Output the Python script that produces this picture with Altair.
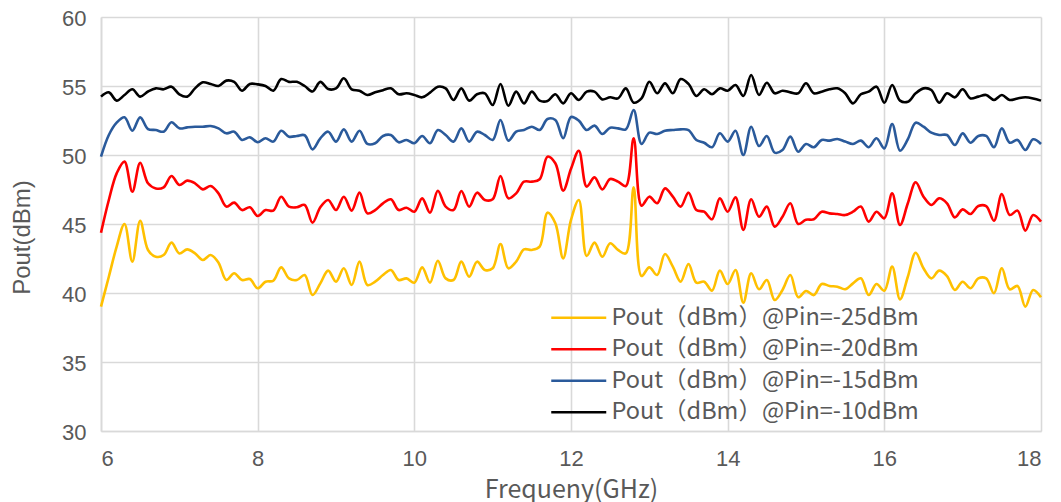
import altair as alt
import pandas as pd

freq = [round(6 + 0.1 * i, 1) for i in range(121)]

p25 = [39.01, 41.18, 43.36, 45.0, 42.27, 45.24, 43.12, 42.63, 42.75, 43.65,
       42.87, 43.16, 42.87, 42.39, 42.75, 42.2, 40.94, 41.43, 40.94, 41.01,
       40.34, 40.82, 40.89, 41.86, 41.06, 40.94, 41.3, 39.85, 40.7, 41.62,
       40.82, 41.79, 40.58, 42.27, 40.58, 40.82, 41.3, 41.67, 40.94, 41.06,
       40.75, 41.86, 40.75, 42.34, 41.06, 40.94, 42.27, 41.18, 42.27, 41.67,
       41.79, 43.55, 41.79, 42.27, 43.16, 43.12, 43.36, 45.82, 45.05, 42.51,
       45.3, 46.74, 42.68, 43.65, 42.63, 43.6, 43.12, 42.87, 47.66, 41.23,
       41.86, 41.3, 42.83, 41.91, 40.82, 42.1, 40.75, 40.82, 40.17, 41.62,
       40.65, 41.67, 39.3, 41.43, 40.27, 40.94, 39.49, 40.22, 41.3, 39.69,
       40.15, 39.85, 40.65, 40.51, 40.46, 40.27, 40.7, 41.06, 39.85, 40.65,
       40.17, 41.91, 39.54, 41.18, 42.92, 41.79, 41.06, 41.62, 41.23, 40.22,
       40.82, 40.34, 41.06, 41.06, 39.98, 41.79, 40.27, 40.51, 39.01, 40.22,
       39.69]

p20 = [44.37, 46.74, 48.67, 49.52, 47.34, 49.44, 47.95, 47.58, 47.66, 48.48,
       47.83, 48.14, 47.95, 47.51, 47.75, 47.22, 46.26, 46.55, 46.01, 46.21,
       45.58, 46.01, 45.97, 46.98, 46.26, 46.21, 46.38, 45.1, 46.21, 46.74,
       46.01, 46.98, 45.97, 47.27, 45.77, 46.01, 46.5, 46.79, 46.01, 46.18,
       45.89, 46.86, 45.82, 47.41, 46.26, 46.01, 47.39, 46.26, 47.27, 46.74,
       46.79, 48.48, 46.86, 47.22, 48.07, 48.07, 48.24, 49.88, 49.4, 47.42,
       49.0, 50.31, 47.71, 48.38, 47.51, 48.26, 48.07, 47.75, 51.21, 46.33,
       46.98, 46.5, 47.58, 46.98, 46.26, 47.27, 46.01, 45.89, 45.34, 46.86,
       45.89, 46.93, 44.57, 46.79, 45.53, 46.26, 44.81, 45.53, 46.5, 45.0,
       45.31, 45.34, 45.89, 45.77, 45.72, 45.65, 45.89, 46.26, 45.17, 45.89,
       45.41, 47.22, 44.93, 46.5, 48.02, 46.98, 46.38, 46.86, 46.5, 45.48,
       46.06, 45.72, 46.3, 46.3, 45.24, 47.17, 45.65, 45.97, 44.52, 45.65,
       45.17]

p15 = [49.88, 51.45, 52.34, 52.73, 51.76, 52.73, 51.88, 51.81, 51.69, 52.37,
       51.93, 52.0, 52.05, 52.05, 52.1, 51.93, 51.57, 51.69, 51.09, 51.28,
       50.92, 51.21, 50.97, 51.76, 51.33, 51.38, 51.43, 50.41, 51.21, 51.69,
       50.97, 51.86, 50.97, 51.76, 50.8, 50.85, 51.38, 51.45, 50.92, 51.09,
       50.85, 51.38, 50.85, 51.81, 51.45, 50.97, 51.93, 50.97, 51.69, 51.45,
       51.09, 52.54, 51.04, 51.69, 51.81, 52.05, 51.81, 52.61, 52.54, 51.21,
       52.75, 52.49, 51.81, 52.13, 51.52, 51.98, 51.93, 51.86, 53.26, 50.8,
       51.62, 51.52, 51.76, 51.81, 51.86, 51.81, 51.09, 50.89, 50.56, 51.57,
       50.97, 51.76, 50.0, 52.05, 50.65, 51.38, 50.17, 50.36, 51.33, 50.24,
       50.8, 50.56, 51.09, 51.04, 51.16, 50.97, 50.8, 51.04, 50.56, 51.21,
       50.48, 52.25, 50.31, 51.14, 52.34, 52.05, 51.62, 51.45, 51.45, 50.72,
       51.57, 50.89, 51.38, 51.38, 50.56, 51.93, 50.89, 51.09, 50.36, 51.14,
       50.8]

p10 = [54.23, 54.54, 53.94, 54.35, 54.76, 54.23, 54.6, 54.83, 54.76, 54.95,
       54.4, 54.23, 54.83, 55.27, 55.15, 55.0, 55.39, 55.3, 54.66, 55.15,
       55.12, 55.0, 54.66, 55.5, 55.3, 55.3, 55.0, 54.6, 55.3, 54.78,
       54.83, 55.56, 54.76, 54.66, 54.35, 54.54, 54.7, 54.83, 54.4, 54.47,
       54.35, 54.18, 54.52, 54.95, 54.83, 53.99, 54.83, 53.94, 54.4, 54.47,
       53.62, 55.15, 53.57, 54.59, 53.74, 54.59, 53.94, 53.91, 54.4, 53.74,
       54.47, 53.99, 54.59, 54.59, 54.03, 54.18, 54.1, 54.83, 53.79, 54.1,
       55.31, 54.47, 55.19, 54.47, 55.5, 55.15, 54.28, 54.76, 54.4, 54.83,
       54.66, 55.07, 54.28, 55.8, 54.35, 55.24, 54.47, 54.66, 54.54, 54.47,
       55.2, 54.47, 54.59, 54.76, 54.83, 54.47, 53.74, 54.4, 54.59, 54.95,
       53.79, 55.07, 53.94, 53.86, 54.47, 54.83, 54.71, 53.79, 54.47, 54.18,
       54.76, 54.1, 54.23, 54.35, 53.99, 54.35, 53.99, 54.1, 54.18, 54.1,
       53.94]

series_labels = ["Pout（dBm）@Pin=-25dBm", "Pout（dBm）@Pin=-20dBm",
                 "Pout（dBm）@Pin=-15dBm", "Pout（dBm）@Pin=-10dBm"]
series_colors = ["#FFC000", "#FF0000", "#2A5A9B", "#000000"]
x_ticks = [6, 8, 10, 12, 14, 16, 18]
y_ticks = [30, 35, 40, 45, 50, 55, 60]

rows = []
for k, (lab, vals) in enumerate(zip(series_labels, [p25, p20, p15, p10])):
    for f, v in zip(freq, vals):
        rows.append({"f": f, "v": v, "s": lab, "k": k})
df = pd.DataFrame(rows)

FONT = "Liberation Sans, Noto Sans CJK SC"
CJK = "Noto Sans CJK SC"
GRID = "#d9d9d9"
TXT = "#595959"

chart = alt.Chart(df).mark_line(interpolate="catmull-rom", strokeWidth=2.6).encode(
    x=alt.X("f:Q",
            scale=alt.Scale(domain=[6, 18], nice=False, zero=False),
            axis=alt.Axis(values=x_ticks, title="Frequeny(GHz)", format="d",
                          labelFontSize=22, labelColor=TXT, labelFont=FONT,
                          labelPadding=17, ticks=False,
                          titleFont=CJK, titleFontSize=25,
                          titleFontWeight="normal", titleColor=TXT, titlePadding=8,
                          grid=True, gridColor=GRID, gridWidth=1.6,
                          domainColor=GRID, domainWidth=1.6)),
    y=alt.Y("v:Q",
            scale=alt.Scale(domain=[30, 60], nice=False, zero=False),
            axis=alt.Axis(values=y_ticks, title="Pout(dBm)",
                          labelFontSize=22, labelColor=TXT, labelFont=FONT,
                          labelPadding=15, labelOffset=1, ticks=False,
                          titleFont=FONT, titleFontSize=24, titleY=220,
                          titleFontWeight="normal", titleColor=TXT, titlePadding=27,
                          grid=True, gridColor=GRID, gridWidth=1.6,
                          domainColor=GRID, domainWidth=1.6)),
    color=alt.Color("s:N",
                    scale=alt.Scale(domain=series_labels, range=series_colors),
                    legend=alt.Legend(title=None, orient="none", legendX=466, legendY=289,
                                      padding=0, symbolType="M-5,0H5", symbolSize=121,
                                      symbolStrokeWidth=2.5, labelOffset=21,
                                      labelFontSize=23.5, labelColor=TXT, labelFont=CJK,
                                      rowPadding=6.5, labelLimit=600)),
    order=alt.Order("k:Q"),
).properties(
    width=940, height=414,
    autosize="none",
    padding={"left": 93, "top": 9, "right": 12, "bottom": 76},
).configure_view(stroke=None)

chart.save("out.html", embed_options={"renderer": "svg", "actions": False})
